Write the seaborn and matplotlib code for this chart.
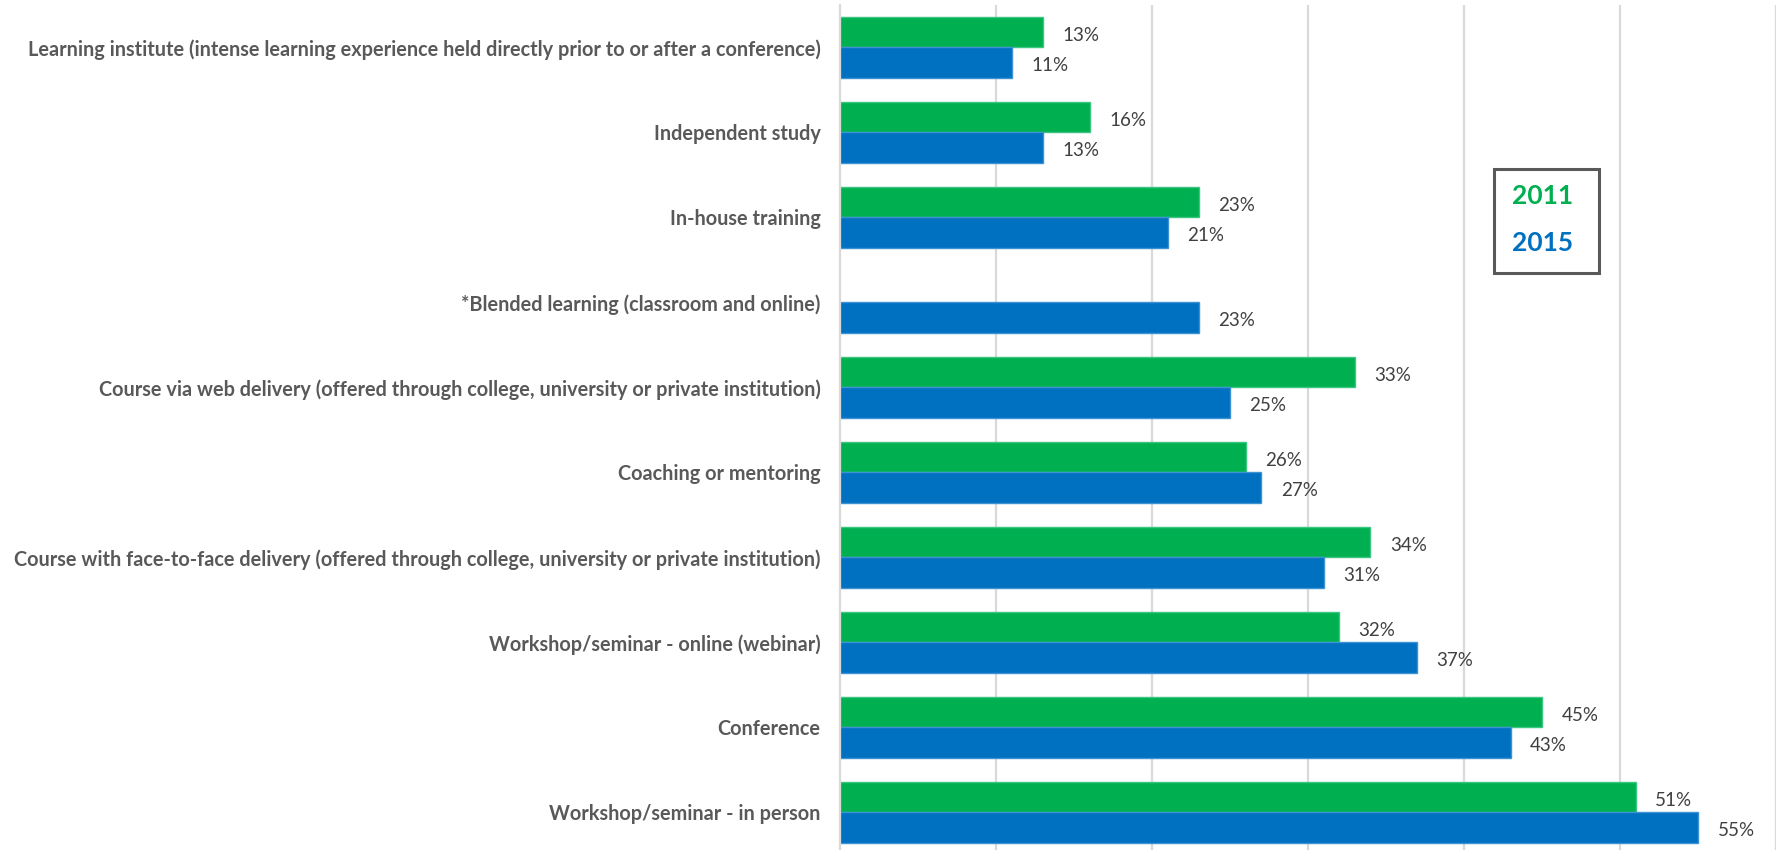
import numpy as np
import pandas as pd
import matplotlib
matplotlib.use("Agg")
import matplotlib.pyplot as plt
from matplotlib.patches import Rectangle
import seaborn as sns

categories = [
    "Learning institute (intense learning experience held directly prior to or after a conference)",
    "Independent study",
    "In-house training",
    "*Blended learning (classroom and online)",
    "Course via web delivery (offered through college, university or private institution)",
    "Coaching or mentoring",
    "Course with face-to-face delivery (offered through college, university or private institution)",
    "Workshop/seminar - online (webinar)",
    "Conference",
    "Workshop/seminar - in person",
]
values_2011 = [13, 16, 23, np.nan, 33, 26, 34, 32, 45, 51]
values_2015 = [11, 13, 21, 23, 25, 27, 31, 37, 43, 55]
years = ["2011", "2015"]
colors = {"2011": "#00B050", "2015": "#0070C0"}
edge_colors = {"2011": "#3DC582", "2015": "#3C92D2"}
x_ticks = [10, 20, 30, 40, 50, 60]

df = pd.DataFrame({
    "Method": categories * 2,
    "Percent": values_2011 + values_2015,
    "Year": [years[0]] * len(categories) + [years[1]] * len(categories),
})

sns.set_theme(style="white")
plt.rcParams["font.family"] = ["Lato", "DejaVu Sans"]

W, H = 1781, 850
fig = plt.figure(figsize=(W / 100, H / 100), dpi=100)
ax = fig.add_axes([840 / W, 0, 936 / W, 1 - 5 / H])

sns.barplot(data=df, y="Method", x="Percent", hue="Year", order=categories,
            hue_order=years, palette=colors, saturation=1, orient="h",
            width=0.71, gap=0, ax=ax, legend=False, errorbar=None)

for cont, yr in zip(ax.containers, years):
    for bar in cont:
        bar.set_edgecolor(edge_colors[yr])
        bar.set_linewidth(1.0)
    labels = [f"{v:.0f}%" if np.isfinite(v) else "" for v in cont.datavalues]
    texts = ax.bar_label(cont, labels=labels, padding=14, fontsize=13.5,
                         color="#404040")
    for t in texts:
        t.xyann = (t.xyann[0], -2)

ax.set_xlim(0, 60)
ax.set_ylim(-0.5 + 845 / 85, -0.5)
ax.set_xticks(x_ticks)
ax.set_xticklabels([])
ax.xaxis.grid(True, color="#D9D9D9", linewidth=1.6)
ax.set_axisbelow(True)
ax.set_xlabel("")
ax.set_ylabel("")
ax.tick_params(axis="y", length=0, pad=14)
ax.tick_params(axis="x", length=0)
for lab in ax.get_yticklabels():
    lab.set_fontweight("bold")
    lab.set_color("#595959")
    lab.set_fontsize(14.3)
for side in ["top", "right", "bottom"]:
    ax.spines[side].set_visible(False)
ax.spines["left"].set_color("#D9D9D9")
ax.spines["left"].set_linewidth(1.6)

# Year key box
fig.patches.append(Rectangle((1494 / W, 1 - 273 / H), 105 / W, 104 / H,
                             transform=fig.transFigure, fill=False,
                             edgecolor="#595959", linewidth=2.2))
for yr, ypix in zip(years, [196, 243]):
    fig.text(1543 / W, 1 - ypix / H, yr, color=colors[yr], fontsize=19,
             fontweight="bold", ha="center", va="center")

fig.savefig("out.png", dpi=100)
